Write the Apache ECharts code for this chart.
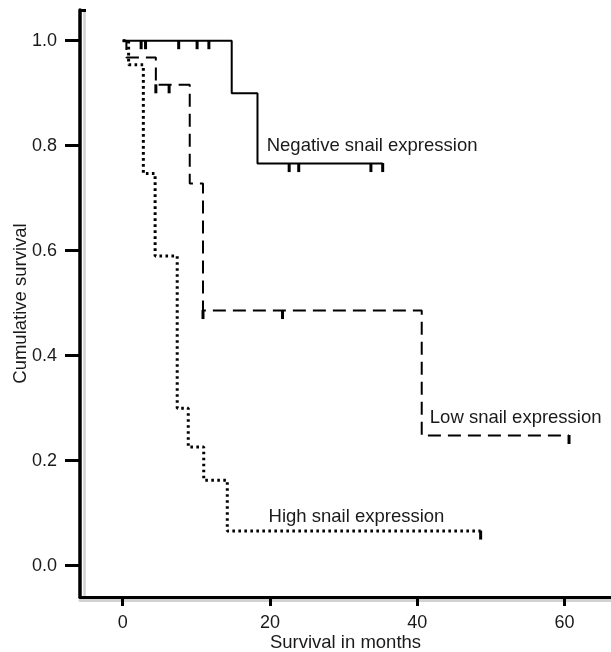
<!DOCTYPE html>
<html>
<head>
<meta charset="utf-8">
<script src="https://cdn.jsdelivr.net/npm/echarts@6/dist/echarts.min.js"></script>
<style>
html,body{margin:0;padding:0;background:#fff;}
#chart{width:611px;height:652px;}
</style>
</head>
<body>
<div id="chart"></div>
<script>
// ---- data ----
var xTicks = [0, 20, 40, 60];
var yTicks = [0, 0.2, 0.4, 0.6, 0.8, 1.0];

var negTimes = [0, 14.8, 18.3, 35.3];
var negSurv  = [1.0, 0.9, 0.766, 0.766];
var negCensor = [2.5, 3.1, 7.6, 10.1, 11.7, 22.6, 23.9, 33.7, 35.3];

var lowTimes = [0, 0.5, 4.5, 9.1, 10.9, 40.6, 60.6];
var lowSurv  = [1.0, 0.968, 0.916, 0.728, 0.486, 0.248, 0.248];
var lowCensor = [4.5, 6.3, 10.9, 21.7, 60.6];

var highTimes = [0, 0.8, 2.8, 4.4, 7.4, 8.9, 11.0, 14.2, 48.6];
var highSurv  = [1.0, 0.954, 0.747, 0.59, 0.30, 0.226, 0.163, 0.066, 0.066];
var highCensor = [48.6];

var labelTexts = ['Negative snail expression', 'Low snail expression', 'High snail expression'];
var xName = 'Survival in months';
var yName = 'Cumulative survival';

// ---- helpers ----
function pairs(t, s) { return t.map(function (v, i) { return [v, s[i]]; }); }
function survivalAt(t, s, x) {
  var v = s[0];
  for (var i = 0; i < t.length; i++) { if (t[i] <= x + 1e-9) v = s[i]; }
  return v;
}
function censorPts(t, s, c) { return c.map(function (x) { return [x, survivalAt(t, s, x)]; }); }

var FONT = '"Liberation Sans", Arial, Helvetica, sans-serif';
var TXT = '#1a1a1a';
var SHADOW = '#d2d2d2';
var XMIN = -5.8, XMAX = 66.3, YMIN = -0.0596, YMAX = 1.0585;

var censorStyle = {
  type: 'scatter', symbol: 'rect', symbolSize: [3, 9], symbolOffset: [0, 4],
  itemStyle: { color: '#000', opacity: 1 }, silent: true, z: 5
};

var chart = echarts.init(document.getElementById('chart'), null, { renderer: 'canvas' });
chart.setOption({
  animation: false,
  backgroundColor: '#fff',
  grid: { left: 80, right: 0, top: 10, bottom: 55, containLabel: false, outerBoundsMode: 'none' },
  xAxis: [{
    type: 'value', min: XMIN, max: XMAX, position: 'bottom', offset: 3.5, z: 1,
    axisLine: { show: true, onZero: false, lineStyle: { color: SHADOW, width: 3 } },
    axisTick: { show: false }, axisLabel: { show: false }, splitLine: { show: false }
  }, {
    type: 'value', min: XMIN, max: XMAX, position: 'bottom', z: 3,
    name: xName, nameLocation: 'middle', nameGap: 36, nameMoveOverlap: false,
    nameTextStyle: { fontFamily: FONT, fontSize: 18.5, color: TXT },
    axisLine: { show: true, onZero: false, lineStyle: { color: '#000', width: 3 } },
    axisTick: { show: true, customValues: xTicks, length: 9, lineStyle: { color: '#000', width: 3 } },
    axisLabel: { customValues: xTicks, margin: 17, fontFamily: FONT, fontSize: 18, color: TXT },
    splitLine: { show: false }
  }],
  yAxis: [{
    type: 'value', min: YMIN, max: YMAX, position: 'left', offset: -4, z: 1,
    axisLine: { show: true, onZero: false, lineStyle: { color: SHADOW, width: 2.5 } },
    axisTick: { show: false }, axisLabel: { show: false }, splitLine: { show: false }
  }, {
    type: 'value', min: YMIN, max: YMAX, position: 'left', z: 3,
    name: yName, nameLocation: 'middle', nameGap: 50, nameRotate: 90, nameMoveOverlap: false,
    nameTextStyle: { fontFamily: FONT, fontSize: 18.5, color: TXT },
    axisLine: { show: true, onZero: false, lineStyle: { color: '#000', width: 3.5 } },
    axisTick: { show: true, customValues: yTicks, length: 15, lineStyle: { color: '#000', width: 3 } },
    axisLabel: { customValues: yTicks, margin: 23, fontFamily: FONT, fontSize: 18, color: TXT,
      formatter: function (v) { return Number(v).toFixed(1); } },
    splitLine: { show: false }
  }, {
    // small hook at the top end of the y axis
    type: 'value', min: YMIN, max: YMAX, position: 'left', z: 4,
    axisLine: { show: false, onZero: false },
    axisTick: { show: true, inside: true, customValues: [YMAX], length: 6, lineStyle: { color: '#000', width: 3 } },
    axisLabel: { show: false }, splitLine: { show: false }
  }],
  series: [
    { name: 'High', type: 'line', xAxisIndex: 1, yAxisIndex: 1, step: 'end', data: pairs(highTimes, highSurv), showSymbol: false,
      lineStyle: { color: '#000', width: 3, type: [2.6, 3.4] }, z: 2 },
    { name: 'Low', type: 'line', xAxisIndex: 1, yAxisIndex: 1, step: 'end', data: pairs(lowTimes, lowSurv), showSymbol: false,
      lineStyle: { color: '#000', width: 2, type: [13, 7] }, z: 3 },
    { name: 'Negative', type: 'line', xAxisIndex: 1, yAxisIndex: 1, step: 'end', data: pairs(negTimes, negSurv), showSymbol: false,
      lineStyle: { color: '#000', width: 2 }, z: 4 },
    Object.assign({ name: 'negC', xAxisIndex: 1, yAxisIndex: 1, data: censorPts(negTimes, negSurv, negCensor) }, censorStyle),
    Object.assign({ name: 'lowC', xAxisIndex: 1, yAxisIndex: 1, data: censorPts(lowTimes, lowSurv, lowCensor) }, censorStyle),
    Object.assign({ name: 'highC', xAxisIndex: 1, yAxisIndex: 1, data: censorPts(highTimes, highSurv, highCensor) }, censorStyle),
    { name: 'labels', type: 'scatter', xAxisIndex: 1, yAxisIndex: 1, symbolSize: 0, silent: true, z: 6,
      itemStyle: { opacity: 1 },
      data: [[19.55, 0.80, labelTexts[0]], [41.7, 0.282, labelTexts[1]], [19.8, 0.093, labelTexts[2]]],
      label: { show: true, position: 'right', distance: 0, fontFamily: FONT, fontSize: 18.5, color: TXT, opacity: 1,
        formatter: function (p) { return p.data[2]; } } }
  ]
});
</script>
</body>
</html>
